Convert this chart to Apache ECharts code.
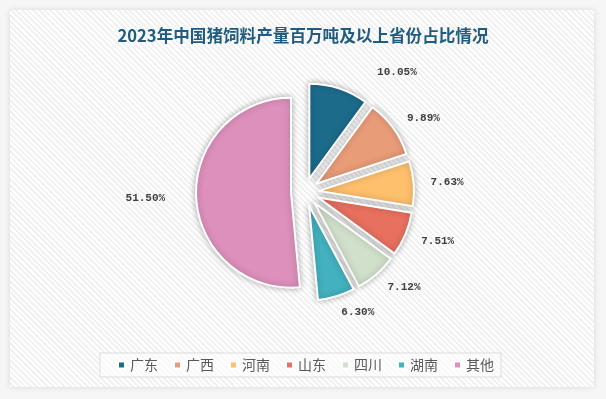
<!DOCTYPE html>
<html>
<head>
<meta charset="utf-8">
<script src="https://cdn.jsdelivr.net/npm/echarts@6/dist/echarts.min.js"></script>
<style>
  body { margin: 0; }
  #wrap { position: relative; width: 606px; height: 399px; background: #f6f6f6; }
  #panel {
    position: absolute; left: 10px; top: 10px; width: 584px; height: 377px;
    box-shadow: 0 0 6px rgba(0,0,0,0.12);
    background: repeating-linear-gradient(45deg, #ffffff 0 2px, #f1f1f1 2px 4px);
  }
  #main { position: absolute; left: 0; top: 0; width: 606px; height: 399px; }
</style>
</head>
<body>
<div id="wrap">
  <div id="panel"></div>
  <div id="main"></div>
</div>
<script>
// 2023年各省猪饲料产量占比
var provinces = ['广东', '广西', '河南', '山东', '四川', '湖南', '其他'];
var shares = [10.05, 9.89, 7.63, 7.51, 7.12, 6.30, 51.50];

var colorList = ['#1c6b8b', '#e99c78', '#fec06d', '#e8705f', '#d1e0cb', '#43b1bf', '#dc90bb'];

var pieData = [];
for (var i = 0; i < provinces.length; i++) {
  var item = { name: provinces[i], value: shares[i], selected: true };
  if (provinces[i] === '广东') item.labelLine = { length2: 33 };
  if (provinces[i] === '其他') item.labelLine = { length2: 14 };
  pieData.push(item);
}

var myChart = echarts.init(document.getElementById('main'));
var option = {
  backgroundColor: 'transparent',
  color: colorList,
  title: {
    text: '2023年中国猪饲料产量百万吨及以上省份占比情况',
    left: 'center',
    top: 22,
    textStyle: {
      fontFamily: 'Noto Sans CJK SC',
      fontSize: 16.6,
      fontWeight: 'bold',
      color: '#1f5c7f'
    }
  },
  legend: {
    data: provinces,
    left: 100,
    top: 353,
    padding: [5, 7, 5, 17],
    borderColor: '#dddddd',
    borderWidth: 1,
    backgroundColor: 'rgba(255,255,255,0.5)',
    icon: 'rect',
    itemWidth: 7,
    itemHeight: 7,
    itemGap: 15,
    selectedMode: false,
    textStyle: {
      fontFamily: 'Noto Sans CJK SC',
      fontSize: 14,
      color: '#595959'
    }
  },
  series: [
    {
      type: 'pie',
      center: [305, 192],
      radius: 95,
      selectedMode: 'multiple',
      selectedOffset: 14,
      avoidLabelOverlap: false,
      animation: false,
      itemStyle: {
        borderColor: '#ffffff',
        borderWidth: 2,
        shadowBlur: 6,
        shadowColor: 'rgba(0,0,0,0.3)'
      },
      select: {
        itemStyle: { borderColor: '#ffffff', borderWidth: 2 }
      },
      emphasis: { scale: false },
      label: {
        position: 'outside',
        distanceToLabelLine: 0,
        formatter: function (p) { return p.value.toFixed(2) + '%'; },
        fontFamily: 'Liberation Mono',
        fontWeight: 'bold',
        fontSize: 11,
        color: '#404040'
      },
      labelLine: { show: false, length: 17, length2: 0 },
      data: pieData
    }
  ]
};
option && myChart.setOption(option);
</script>
</body>
</html>
